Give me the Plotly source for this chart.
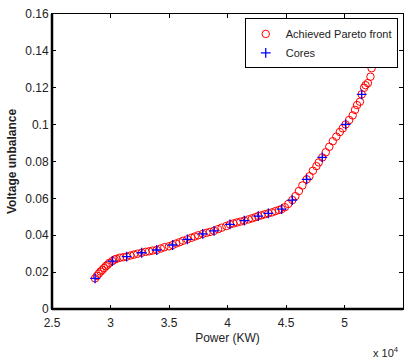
import plotly.graph_objects as go

# Achieved Pareto front: power (x 10^4 KW) and voltage unbalance
front_power = [2.868, 2.885, 2.90, 2.915, 2.93, 2.945, 2.96, 2.975, 2.99, 3.016, 3.035, 3.05, 3.08, 3.11,
               3.138, 3.17, 3.20, 3.23, 3.266, 3.30, 3.33, 3.36, 3.395, 3.43, 3.46, 3.50, 3.531,
               3.56, 3.59, 3.62, 3.657, 3.69, 3.72, 3.75, 3.788, 3.82, 3.85, 3.885, 3.92, 3.95,
               3.99, 4.021, 4.05, 4.08, 4.11, 4.144, 4.18, 4.21, 4.24, 4.263, 4.29, 4.32, 4.349,
               4.38, 4.41, 4.44, 4.463, 4.49, 4.52, 4.554, 4.58, 4.61, 4.64, 4.677, 4.70, 4.73,
               4.76, 4.78, 4.81, 4.84, 4.87, 4.90, 4.93, 4.96, 4.985, 5.01, 5.04, 5.07, 5.09,
               5.107, 5.132, 5.147, 5.167, 5.18, 5.20, 5.222, 5.232]
front_unbalance = [0.0166, 0.0180, 0.0192, 0.0203, 0.0212, 0.0222, 0.0232, 0.0240, 0.0250, 0.0260,
                   0.0268, 0.0272, 0.0278, 0.0281, 0.0284, 0.0290, 0.0295, 0.0300, 0.0305, 0.0310,
                   0.0313, 0.0317, 0.0320, 0.0328, 0.0335, 0.0340, 0.0347, 0.0355, 0.0362, 0.0370,
                   0.0378, 0.0386, 0.0393, 0.0400, 0.0407, 0.0413, 0.0418, 0.0424, 0.0433, 0.0441,
                   0.0450, 0.0459, 0.0464, 0.0469, 0.0474, 0.0479, 0.0486, 0.0492, 0.0498, 0.0504,
                   0.0508, 0.0514, 0.0519, 0.0524, 0.0531, 0.0537, 0.0542, 0.0552, 0.0570, 0.0591,
                   0.0612, 0.0640, 0.0670, 0.0703, 0.0720, 0.0750, 0.0775, 0.0795, 0.0822, 0.0850,
                   0.0880, 0.0910, 0.0935, 0.0960, 0.0980, 0.1001, 0.1025, 0.1050, 0.1080, 0.1106,
                   0.1124, 0.1164, 0.1200, 0.1214, 0.1225, 0.1260, 0.1306]

# Core solutions
core_power = [2.868, 3.016, 3.138, 3.266, 3.395, 3.531, 3.657, 3.788, 3.885, 4.021, 4.144,
              4.263, 4.349, 4.463, 4.554, 4.677, 4.810, 5.010, 5.147]
core_unbalance = [0.0166, 0.0260, 0.0284, 0.0305, 0.0320, 0.0347, 0.0378, 0.0407, 0.0424,
                  0.0459, 0.0479, 0.0504, 0.0519, 0.0542, 0.0591, 0.0703, 0.0822, 0.1001, 0.1164]

x_ticks = [2.5, 3, 3.5, 4, 4.5, 5, 5.5]
x_labels = ["2.5", "3", "3.5", "4", "4.5", "5", "5.5"]
y_ticks = [0, 0.02, 0.04, 0.06, 0.08, 0.10, 0.12, 0.14, 0.16]
y_labels = ["0", "0.02", "0.04", "0.06", "0.08", "0.1", "0.12", "0.14", "0.16"]

FONT = "Liberation Sans"
TEXT = "#222"

fig = go.Figure()
fig.add_trace(go.Scatter(
    x=front_power, y=front_unbalance, mode="markers", name="Achieved Pareto front",
    marker=dict(symbol="circle-open", size=7.5, color="#ff0000", line=dict(width=1, color="#ff0000")),
))
fig.add_trace(go.Scatter(
    x=core_power, y=core_unbalance, mode="markers", name="Cores",
    marker=dict(symbol="cross-thin-open", size=7, color="#0000ff", line=dict(width=1.3, color="#0000ff")),
))

axis_common = dict(
    showline=True, linecolor="black", linewidth=1, mirror="ticks",
    ticks="inside", ticklen=4, tickcolor="black", showgrid=False, zeroline=False,
    tickfont=dict(family=FONT, size=12, color=TEXT),
)

fig.update_layout(
    width=409, height=361,
    margin=dict(l=52, r=6, t=14, b=52),
    paper_bgcolor="white", plot_bgcolor="white",
    font=dict(family=FONT, size=12, color=TEXT),
    xaxis=dict(range=[2.5, 5.5], tickvals=x_ticks, ticktext=x_labels, ticklabelstandoff=3,
               title=dict(text="Power (KW)", font=dict(family=FONT, size=12, color=TEXT), standoff=4),
               **axis_common),
    yaxis=dict(range=[0, 0.16], tickvals=y_ticks, ticktext=y_labels,
               title=dict(text="<b>Voltage unbalance</b>", font=dict(family=FONT, size=12, color=TEXT),
                          standoff=6),
               **axis_common),
    legend=dict(x=0.985, y=0.985, xanchor="right", yanchor="top",
                bgcolor="white", bordercolor="black", borderwidth=1,
                font=dict(family=FONT, size=11, color=TEXT),
                tracegroupgap=0),
    showlegend=True,
)

# Heavier left and bottom frame edges
fig.add_shape(type="line", xref="paper", yref="paper", x0=0, x1=0, y0=0, y1=1,
              line=dict(color="black", width=2.5))
fig.add_shape(type="line", xref="paper", yref="paper", x0=0, x1=1, y0=0, y1=0,
              line=dict(color="black", width=2.5))

fig.add_annotation(
    text="x 10<sup>4</sup>", xref="paper", yref="paper", x=0.995, y=-0.115,
    xanchor="right", yanchor="top", showarrow=False,
    font=dict(family=FONT, size=11, color=TEXT),
)

fig.write_html("out.html")
